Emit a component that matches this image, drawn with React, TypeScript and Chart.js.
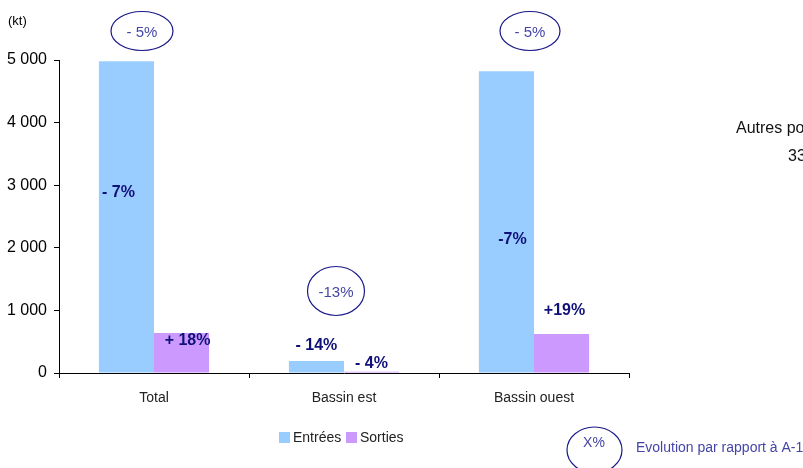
import React, { useEffect, useRef } from "react";
import { Chart, registerables } from "chart.js";

Chart.register(...registerables);

const categories = ["Total", "Bassin est", "Bassin ouest"];
const entrees = [4980, 190, 4820];
const sorties = [640, 18, 625];
const entreesLabels = ["- 7%", "- 14%", "-7%"];
const sortiesLabels = ["+ 18%", "- 4%", "+19%"];
const yTicks = [0, 1000, 2000, 3000, 4000, 5000];
const ellipseLabels = ["- 5%", "-13%", "- 5%"];

const NARROW = "'Liberation Sans Narrow', 'Arial Narrow', 'Liberation Sans', Arial, sans-serif";
const SANS = "'Liberation Sans', Arial, sans-serif";

// label offsets relative to bar top-center (pixels)
const entreesOff = [[-8, 131], [0, -16], [6, 168]];
const sortiesOff = [[6, 8], [0, -8], [3, -23]];
// ellipse offsets relative to category center, and y placement
const ellipseOff = [[-12, 31, 31, 19.5], [-8, 291, 28.5, 24.5], [-4, 31, 30, 19.5]];

const overlay = {
  id: "overlay",
  afterDatasetsDraw(chart: any) {
    const ctx = chart.ctx;
    const xs = chart.scales.x;
    ctx.save();
    // data labels
    ctx.font = `bold 16px ${SANS}`;
    ctx.fillStyle = "#10107a";
    ctx.textAlign = "center";
    ctx.textBaseline = "middle";
    const m0 = chart.getDatasetMeta(0);
    const m1 = chart.getDatasetMeta(1);
    m0.data.forEach((b: any, i: number) => {
      ctx.fillText(entreesLabels[i], b.x + entreesOff[i][0], b.y + entreesOff[i][1]);
    });
    m1.data.forEach((b: any, i: number) => {
      ctx.fillText(sortiesLabels[i], b.x + sortiesOff[i][0], b.y + sortiesOff[i][1]);
    });
    // ellipses
    categories.forEach((c, i) => {
      const cx = xs.getPixelForValue(i) + ellipseOff[i][0];
      const cy = ellipseOff[i][1];
      ctx.beginPath();
      ctx.ellipse(cx, cy, ellipseOff[i][2], ellipseOff[i][3], 0, 0, Math.PI * 2);
      ctx.strokeStyle = "#1a1a8a";
      ctx.lineWidth = 1.2;
      ctx.stroke();
      ctx.font = `15px ${NARROW}`;
      ctx.fillStyle = "#4545a8";
      ctx.fillText(ellipseLabels[i], cx, cy + 2);
    });
    // unit
    ctx.font = `13px ${SANS}`;
    ctx.fillStyle = "#000";
    ctx.textAlign = "left";
    ctx.fillText("(kt)", 8, 21);
    // legend
    ctx.fillStyle = "#99CCFF";
    ctx.fillRect(279, 432, 11, 11);
    ctx.fillStyle = "#CC99FF";
    ctx.fillRect(346, 432, 11, 11);
    ctx.fillStyle = "#222";
    ctx.font = `14px ${NARROW}`;
    ctx.fillText("Entrées", 293, 438);
    ctx.fillText("Sorties", 360, 438);
    // evolution legend
    ctx.beginPath();
    ctx.ellipse(594.5, 450, 27.5, 23, 0, 0, Math.PI * 2);
    ctx.strokeStyle = "#1a1a8a";
    ctx.stroke();
    ctx.fillStyle = "#4545a8";
    ctx.textAlign = "center";
    ctx.font = `14px ${SANS}`;
    ctx.fillText("X%", 594, 443);
    ctx.textAlign = "left";
    ctx.font = `14px ${SANS}`;
    ctx.fillText("Evolution par rapport à A-1", 636, 448);
    // cut-off side text
    ctx.fillStyle = "#111";
    ctx.font = `16px ${NARROW}`;
    ctx.fillText("Autres ports", 736, 129);
    ctx.fillText("33 %", 788, 157);
    ctx.restore();
  },
};

export default function App() {
  const ref = useRef<HTMLCanvasElement>(null);
  useEffect(() => {
    const chart = new Chart(ref.current!, {
      type: "bar",
      data: {
        labels: categories,
        datasets: [
          { label: "Entrées", data: entrees, backgroundColor: "#99CCFF" },
          { label: "Sorties", data: sorties, backgroundColor: "#CC99FF" },
        ],
      },
      options: {
        animation: false,
        responsive: false,
        layout: { padding: { left: 0, right: 174, top: 60, bottom: 0 } },
        datasets: { bar: { categoryPercentage: 0.58, barPercentage: 1 } } as any,
        plugins: { legend: { display: false }, tooltip: { enabled: false } },
        scales: {
          x: {
            grid: { display: true, drawOnChartArea: false, tickLength: 5, color: "#000", offset: true },
            border: { color: "#000", width: 1 },
            ticks: { color: "#222", font: { family: NARROW, size: 14 }, padding: 12 },
            afterFit: (s: any) => { s.height = 95; },
          },
          y: {
            min: 0,
            max: 5000,
            afterBuildTicks: (s: any) => { s.ticks = yTicks.map((v) => ({ value: v })); },
            grid: { display: true, drawOnChartArea: false, tickLength: 5, color: "#000" },
            border: { color: "#000", width: 1 },
            ticks: {
              color: "#000",
              font: { family: SANS, size: 16 },
              padding: 7,
              callback: (v: any) => Number(v).toLocaleString("fr-FR").replace(/\s/g, " "),
            },
            afterFit: (s: any) => { s.width = 59; },
          },
        },
      },
      plugins: [overlay],
    });
    return () => chart.destroy();
  }, []);
  return (
    <div style={{ position: "absolute", left: 0, top: 0, width: 803, height: 468, background: "#fff" }}>
      <canvas ref={ref} width={803} height={468} />
    </div>
  );
}
